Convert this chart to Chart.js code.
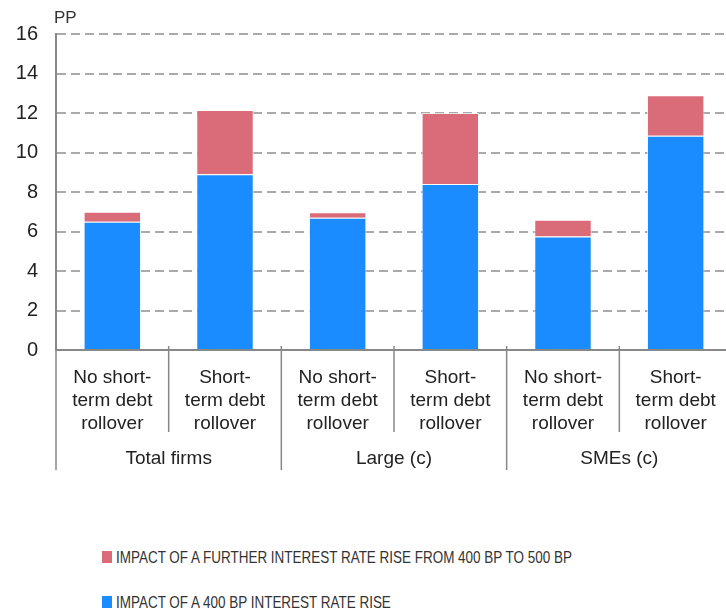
<!DOCTYPE html>
<html>
<head>
<meta charset="utf-8">
<script src="https://cdn.jsdelivr.net/npm/chart.js@4.4.1/dist/chart.umd.min.js"></script>
<style>
    body { margin: 0; background: #fff; overflow: hidden; width: 726px; height: 609px; position: relative; }
    #wrap { position: absolute; left: 0; top: 0; width: 732px; height: 490px; }
    .legend-item {
        position: absolute; left: 102px; white-space: nowrap; display: flex; align-items: center;
        font-family: 'Liberation Sans Narrow', 'Liberation Sans', sans-serif; font-size: 16.5px; color: #333;
    }
    .legend-box { width: 10px; height: 12px; margin-right: 4px; }
    .legend-text { display: inline-block; transform: scaleX(0.816); transform-origin: left center; }
</style>
</head>
<body>
<div id="wrap"><canvas id="debtChart" width="732" height="490"></canvas></div>
<div id="legend"></div>
<script>
const categories = [
    ['No short-', 'term debt', 'rollover'],
    ['Short-', 'term debt', 'rollover'],
    ['No short-', 'term debt', 'rollover'],
    ['Short-', 'term debt', 'rollover'],
    ['No short-', 'term debt', 'rollover'],
    ['Short-', 'term debt', 'rollover']
];
const groupLabels = ['Total firms', 'Large (c)', 'SMEs (c)'];
const impact400 = [6.5, 8.9, 6.7, 8.4, 5.75, 10.85];
const impact400to500 = [0.5, 3.25, 0.27, 3.6, 0.85, 2.05];
const yTicks = [0, 2, 4, 6, 8, 10, 12, 14, 16];

document.addEventListener('DOMContentLoaded', function() {
    initializeChart();
});

// separators under the axis, group names and the "PP" unit
const groupAxisPlugin = {
    id: 'groupAxis',
    afterDraw(chart) {
        const ctx = chart.ctx;
        const x = chart.scales.x;
        const y0 = chart.chartArea.bottom;
        const half = (x.getPixelForValue(1) - x.getPixelForValue(0)) / 2;

        ctx.save();
        ctx.strokeStyle = '#888';
        ctx.lineWidth = 1.5;
        for (let i = 0; i <= categories.length; i++) {
            const px = i < categories.length ? x.getPixelForValue(i) - half : x.getPixelForValue(i - 1) + half;
            const major = i % 2 === 0;
            ctx.beginPath();
            ctx.moveTo(px, y0 - 4);
            ctx.lineTo(px, major ? y0 + 120 : y0 + 82);
            ctx.stroke();
        }

        ctx.fillStyle = '#222';
        ctx.font = '19px "Liberation Sans", Arial, sans-serif';
        ctx.textAlign = 'center';
        ctx.textBaseline = 'middle';
        groupLabels.forEach((label, g) => {
            const cx = (x.getPixelForValue(g * 2) + x.getPixelForValue(g * 2 + 1)) / 2;
            ctx.fillText(label, cx, y0 + 109);
        });

        ctx.font = '17px "Liberation Sans", Arial, sans-serif';
        ctx.fillStyle = '#333';
        ctx.textAlign = 'left';
        ctx.fillText('PP', chart.chartArea.left - 2, 18);
        ctx.restore();
    }
};

function initializeChart() {
    const ctx = document.getElementById('debtChart').getContext('2d');
    const chart = new Chart(ctx, {
        type: 'bar',
        data: {
            labels: categories,
            datasets: [{
                label: 'IMPACT OF A 400 BP INTEREST RATE RISE',
                data: impact400,
                backgroundColor: '#1b8cff',
                borderColor: 'rgba(255, 255, 255, 0.7)',
                borderWidth: 1,
                categoryPercentage: 1,
                barPercentage: 0.51
            }, {
                label: 'IMPACT OF A FURTHER INTEREST RATE RISE FROM 400 BP TO 500 BP',
                data: impact400to500,
                backgroundColor: '#da6b78',
                borderColor: 'rgba(255, 255, 255, 0.7)',
                borderWidth: 1,
                categoryPercentage: 1,
                barPercentage: 0.51
            }]
        },
        options: {
            responsive: false,
            animation: false,
            layout: { padding: { top: 34, left: 0, right: 0, bottom: 0 } },
            plugins: {
                legend: { display: false },
                tooltip: { enabled: false }
            },
            scales: {
                x: {
                    stacked: true,
                    grid: { display: false, drawTicks: false },
                    border: { display: true, color: '#888', width: 2 },
                    ticks: {
                        color: '#222',
                        padding: 16,
                        maxRotation: 0,
                        autoSkip: false,
                        font: { family: '"Liberation Sans", Arial, sans-serif', size: 19, lineHeight: 1.21 }
                    },
                    afterFit: function(scale) { scale.height = 140; }
                },
                y: {
                    stacked: true,
                    min: 0,
                    max: 16,
                    afterBuildTicks: function(scale) {
                        scale.ticks = yTicks.map(v => ({ value: v }));
                    },
                    afterFit: function(scale) { scale.width = 56; },
                    grid: {
                        drawTicks: false,
                        lineWidth: 2,
                        color: c => c.tick && c.tick.value === 0 ? 'rgba(0,0,0,0)' : '#aaa'
                    },
                    border: { display: true, color: '#888', width: 2, dash: [9, 5] },
                    ticks: {
                        color: '#222',
                        padding: 18,
                        font: { family: '"Liberation Sans", Arial, sans-serif', size: 20 }
                    }
                }
            }
        },
        plugins: [groupAxisPlugin]
    });

    window.debtChart = chart;
    buildLegend(chart);
}

function buildLegend(chart) {
    const legend = document.getElementById('legend');
    const rows = [557, 602];
    const sets = chart.data.datasets.slice().reverse();
    legend.innerHTML = sets.map((ds, i) => `
        <div class="legend-item" style="top:${rows[i] - 10}px; height:20px;">
            <span class="legend-box" style="background:${ds.backgroundColor}"></span><span class="legend-text">${ds.label}</span>
        </div>
    `).join('');
}
</script>
</body>
</html>
